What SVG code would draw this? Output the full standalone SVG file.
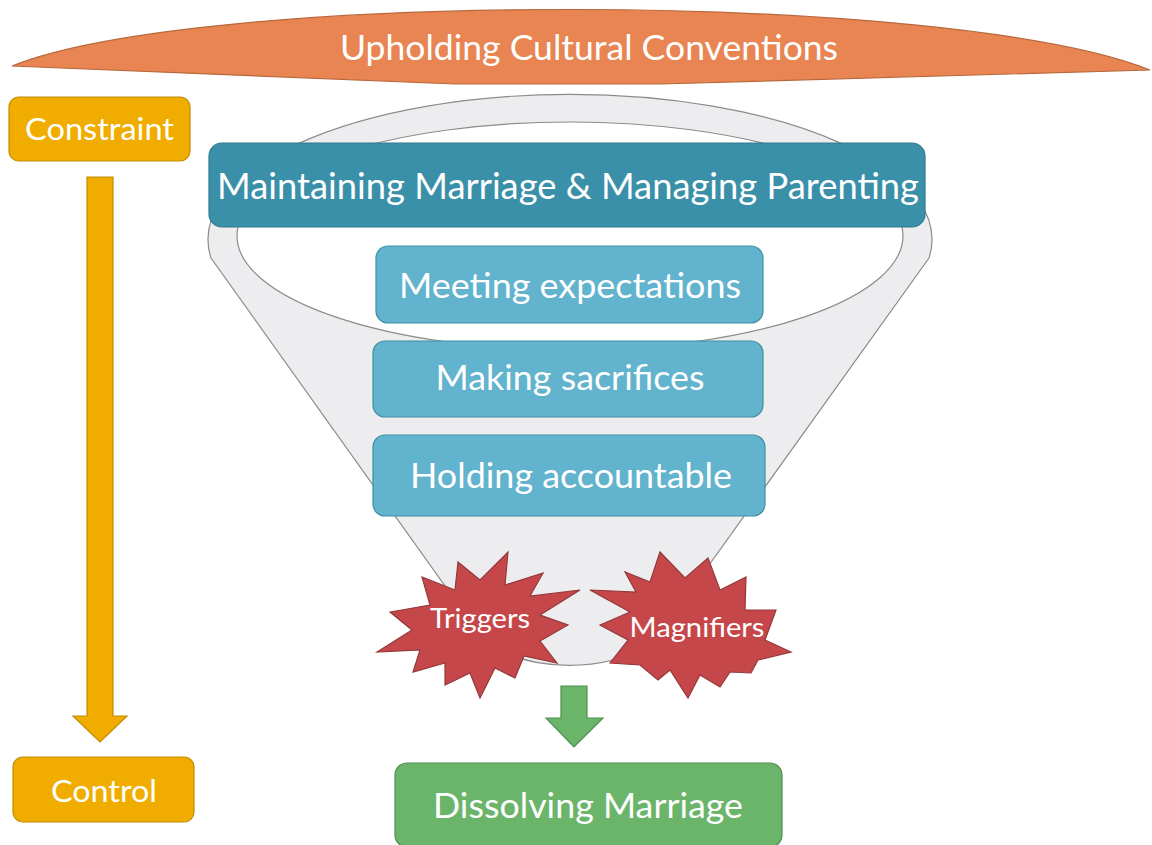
<svg xmlns="http://www.w3.org/2000/svg" width="1152" height="845" viewBox="0 0 1152 845">
  <defs>
    <style>
      .lbl { font-family: Lato, "Open Sans", "Liberation Sans", sans-serif; fill: #ffffff; text-anchor: middle; }
      .teal { fill: #3A90A9; stroke: #2F7A90; stroke-width: 1.2; }
      .blue { fill: #62B3CD; stroke: #3F8FA6; stroke-width: 1.2; }
      .gold { fill: #F0AD00; stroke: #C48C00; stroke-width: 1.2; }
      .green { fill: #6BB56B; stroke: #4F8E4F; stroke-width: 1.2; }
      .burst { fill: #C6474A; stroke: #93393B; stroke-width: 1.2; stroke-linejoin: miter; }
    </style>
  </defs>

  <rect width="1152" height="845" fill="#ffffff"/>

  <!-- Banner -->
  <g id="banner">
    <path d="M12,66 C200,-10 950,-10 1150,70 L660,84 L455,84 Z" fill="#E88552" stroke="#B8683C" stroke-width="1.2"/>
    <text class="lbl" x="589" y="60" font-size="34" textLength="498" lengthAdjust="spacingAndGlyphs">Upholding Cultural Conventions</text>
  </g>

  <!-- Funnel -->
  <g id="funnel">
    <path d="M211,258 A362,145 0 1 1 929,258 L684,600 A115,72 0 0 1 455,600 Z" fill="#EDEDEF" stroke="#8C8C8C" stroke-width="1.2"/>
    <ellipse cx="570" cy="236" rx="333" ry="114" fill="#ffffff" stroke="#8C8C8C" stroke-width="1.2"/>
  </g>

  <g id="maintaining">
    <rect class="teal" x="209" y="143" width="716" height="84" rx="13"/>
    <text class="lbl" x="568" y="199" font-size="36" textLength="702" lengthAdjust="spacingAndGlyphs">Maintaining Marriage &amp; Managing Parenting</text>
  </g>

  <g id="meeting">
    <rect class="blue" x="376" y="246" width="387" height="77" rx="12"/>
    <text class="lbl" x="570" y="298" font-size="34" textLength="342" lengthAdjust="spacingAndGlyphs">Meeting expectations</text>
  </g>

  <g id="sacrifices">
    <rect class="blue" x="373" y="341" width="390" height="76" rx="12"/>
    <text class="lbl" x="570" y="390" font-size="34" textLength="269" lengthAdjust="spacingAndGlyphs">Making sacrifices</text>
  </g>

  <g id="accountable">
    <rect class="blue" x="373" y="435" width="392" height="81" rx="12"/>
    <text class="lbl" x="571" y="488" font-size="34" textLength="322" lengthAdjust="spacingAndGlyphs">Holding accountable</text>
  </g>

  <!-- Bursts -->
  <g id="triggers">
    <polygon class="burst" points="508,552 505,585 543,573 530,596 580,590 540,615 568,625 540,641 557,663 524,656 515,678 495,668 480,698 470,673 445,685 445,663 413,672 420,650 377,652 412,630 390,612 430,605 422,577 455,590 458,562 480,580"/>
    <text class="lbl" x="480" y="628" font-size="26" textLength="100" lengthAdjust="spacingAndGlyphs">Triggers</text>
  </g>

  <g id="magnifiers">
    <polygon class="burst" points="660,552 685,578 708,558 720,590 746,577 745,610 776,610 765,640 791,652 758,660 751,673 730,672 720,687 700,675 688,698 670,670 658,680 640,665 610,663 628,640 600,625 630,612 590,590 636,592 625,572 650,582"/>
    <text class="lbl" x="697" y="637" font-size="26" textLength="135" lengthAdjust="spacingAndGlyphs">Magnifiers</text>
  </g>

  <!-- Arrows -->
  <g id="connectors">
    <path class="gold" d="M87,177 L113,177 L113,716 L127,716 L100,742 L73,716 L87,716 Z"/>
    <path class="green" d="M561,686 L587,686 L587,718 L603,718 L574,747 L546,718 L561,718 Z"/>
  </g>

  <g id="constraint">
    <rect class="gold" x="9" y="97" width="181" height="64" rx="10"/>
    <text class="lbl" x="99.5" y="140" font-size="30" textLength="149" lengthAdjust="spacingAndGlyphs">Constraint</text>
  </g>

  <g id="control">
    <rect class="gold" x="13" y="757" width="181" height="65" rx="10"/>
    <text class="lbl" x="104" y="802" font-size="30" textLength="106" lengthAdjust="spacingAndGlyphs">Control</text>
  </g>

  <g id="dissolving">
    <rect class="green" x="395" y="763" width="387" height="84" rx="12"/>
    <text class="lbl" x="588" y="818" font-size="34" textLength="310" lengthAdjust="spacingAndGlyphs">Dissolving Marriage</text>
  </g>
</svg>
